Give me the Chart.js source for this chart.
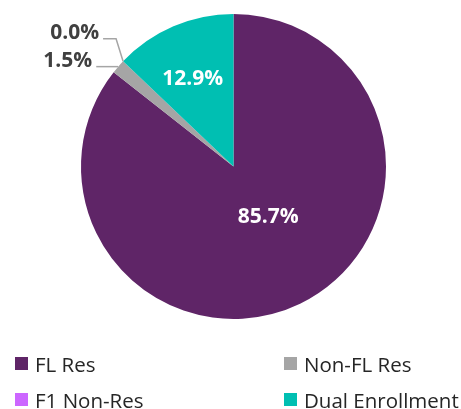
<!DOCTYPE html>
<html>
<head>
<meta charset="utf-8">
<script src="https://cdn.jsdelivr.net/npm/chart.js@4"></script>
<style>
  body { margin: 0; background: #fff; }
  #wrap { position: relative; width: 461px; height: 409px; }
  #legend { position: absolute; left: 0; top: 0; width: 461px; height: 409px; pointer-events: none;
            font-family: "Open Sans", sans-serif; font-size: 20.5px; color: #262626; }
  .item { position: absolute; display: flex; align-items: center; white-space: nowrap; height: 24px; }
  .box { width: 13px; height: 13px; margin-right: 7px; }
</style>
</head>
<body>
<div id="wrap">
  <canvas id="pieChart"></canvas>
  <div id="legend"></div>
</div>
<script>
const labels = ['FL Res', 'Non-FL Res', 'F1 Non-Res', 'Dual Enrollment'];
const values = [85.7, 1.5, 0.0, 12.9];
const colors = ['#5F2567', '#A5A5A5', '#CC66FF', '#00BFB2'];

// label placement for each slice
const placement = [
    { inside: true, r: 0.393, turn: -0.166 },
    { inside: false, dx: 0, dy: 0, run: 22 },
    { inside: false, dx: -7, dy: -22.5, run: 13 },
    { inside: true, r: 0.645, turn: -0.024 }
];

const sliceLabels = {
    id: 'sliceLabels',
    afterDatasetsDraw(chart) {
        const ctx = chart.ctx;
        const meta = chart.getDatasetMeta(0);
        meta.data.forEach((arc, i) => {
            const p = arc.getProps(['x', 'y', 'startAngle', 'endAngle', 'outerRadius']);
            const mid = (p.startAngle + p.endAngle) / 2;
            const text = values[i].toFixed(1) + '%';
            const place = placement[i];
            ctx.save();
            ctx.font = 'bold 21px "Open Sans"';
            ctx.textBaseline = 'alphabetic';
            if (place.inside) {
                const a = mid + place.turn;
                const r = p.outerRadius * place.r;
                ctx.fillStyle = '#ffffff';
                ctx.textAlign = 'center';
                ctx.fillText(text, p.x + Math.cos(a) * r, p.y + Math.sin(a) * r + 7.5);
            } else {
                const ex = p.x + Math.cos(mid) * p.outerRadius;
                const ey = p.y + Math.sin(mid) * p.outerRadius;
                const kx = ex + place.dx;
                const ky = ey + place.dy;
                const tx = kx - place.run;
                ctx.strokeStyle = '#A5A5A5';
                ctx.lineWidth = 1.5;
                ctx.beginPath();
                ctx.moveTo(ex, ey);
                ctx.lineTo(kx, ky);
                ctx.lineTo(tx, ky);
                ctx.stroke();
                ctx.fillStyle = '#404040';
                ctx.textAlign = 'right';
                ctx.fillText(text, tx - 4, ky);
            }
            ctx.restore();
        });
    }
};

const ctx = document.getElementById('pieChart').getContext('2d');
new Chart(ctx, {
    type: 'pie',
    data: {
        labels: labels,
        datasets: [{
            data: values,
            backgroundColor: colors,
            borderWidth: 0
        }]
    },
    options: {
        responsive: true,
        maintainAspectRatio: false,
        animation: false,
        layout: {
            padding: { top: 14, bottom: 90, left: 6, right: 0 }
        },
        plugins: {
            legend: { display: false }
        }
    },
    plugins: [sliceLabels]
});

// legend, two columns
const legendBox = document.getElementById('legend');
const colX = [15, 284];
const rowY = [351.5, 387.5];
labels.forEach((name, i) => {
    const item = document.createElement('div');
    item.className = 'item';
    item.style.left = colX[i % 2] + 'px';
    item.style.top = rowY[Math.floor(i / 2)] + 'px';
    const box = document.createElement('span');
    box.className = 'box';
    box.style.background = colors[i];
    item.appendChild(box);
    item.appendChild(document.createTextNode(name));
    legendBox.appendChild(item);
});
</script>
</body>
</html>
